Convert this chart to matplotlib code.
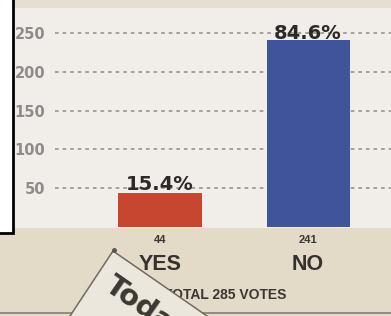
import matplotlib
matplotlib.use("Agg")
import matplotlib.pyplot as plt
from matplotlib.patches import Rectangle, Polygon
import numpy as np

# ---- data ----
categories = ["YES", "NO"]
votes = [44, 241]
bar_colors = ["#c6462f", "#40549b"]
yticks = [50, 100, 150, 200, 250]
total_label = "TOTAL 285 VOTES"
tag_text = "Today"

total = sum(votes)
pct_labels = [f"{v / total * 100:.1f}%" for v in votes]

W, H = 391, 316
fig = plt.figure(figsize=(W / 100, H / 100), dpi=100)

narrow = ["Liberation Sans", "DejaVu Sans"]

# ---- background (pixel coordinates) ----
bg = fig.add_axes([0, 0, 1, 1], zorder=0)
bg.set_xlim(0, W)
bg.set_ylim(H, 0)
bg.axis("off")
bg.add_patch(Rectangle((0, 0), W, 8, color="#e6decf", lw=0))
bg.add_patch(Rectangle((0, 8), W, 220, color="#f1eeea", lw=0))
bg.add_patch(Rectangle((0, 228), W, 88, color="#e3dac8", lw=0))
bg.plot([0, W], [313, 313], color="#857d70", lw=1.2)

# ---- main chart ----
zero_px, px_per_unit = 227, 0.776
top_px = 8
ax_left, ax_right = 55, W
ax = fig.add_axes([ax_left / W, (H - zero_px) / H, (ax_right - ax_left) / W,
                   (zero_px - top_px) / H], zorder=1)
ax.patch.set_alpha(0)
ax.set_ylim(0, (zero_px - top_px) / px_per_unit)
c0, c1 = 160, 308
sc = c1 - c0
ax.set_xlim(-(c0 - ax_left) / sc, 1 + (ax_right - c1) / sc)

x = np.arange(len(categories))
ax.bar(x, votes, width=83 / sc, color=bar_colors, zorder=3)

ax.set_yticks(yticks)
ax.set_yticklabels([str(t) for t in yticks], color="#8e8c8a",
                   fontweight="bold", fontsize=10.5)
ax.tick_params(axis="y", length=0, pad=7)
ax.set_xticks([])
ax.yaxis.grid(True, color="#9c9a98", lw=1.3, linestyle=(0, (2, 2.2)))
ax.set_axisbelow(True)
for s in ax.spines.values():
    s.set_visible(False)

for i, (v, p) in enumerate(zip(votes, pct_labels)):
    ax.annotate(p, xy=(i, v), xytext=(0, 3 if v < 100 else 1),
                textcoords="offset pixels", ha="center", va="baseline",
                fontsize=14, fontweight="bold", color="#2c2a28")
    ax.annotate(str(v), xy=(i, 0), xycoords=("data", "axes fraction"),
                xytext=(0, -13), textcoords="offset pixels",
                ha="center", va="center", fontsize=8, fontweight="bold",
                color="#3a3734", family=narrow, annotation_clip=False)
    ax.annotate(categories[i], xy=(i, 0), xycoords=("data", "axes fraction"),
                xytext=(0, -37), textcoords="offset pixels",
                ha="center", va="center", fontsize=15.5, fontweight="bold",
                color="#34312e", family=narrow, annotation_clip=False)

ax.annotate(total_label, xy=(0.5, 0), xycoords="axes fraction",
            xytext=(2, -68), textcoords="offset pixels", ha="center",
            va="center", fontsize=10, fontweight="bold", color="#3a3734",
            family=narrow, annotation_clip=False)

# ---- overlay decorations (pixel coordinates) ----
ov = fig.add_axes([0, 0, 1, 1], zorder=5)
ov.set_xlim(0, W)
ov.set_ylim(H, 0)
ov.axis("off")
ov.patch.set_alpha(0)

C = np.array([113.0, 251.0])
u = np.array([94.0, 65.0]); u /= np.linalg.norm(u)
v = np.array([-43.0, 65.0]); v /= np.linalg.norm(v)
L1, L2 = 260, 260
ov.add_patch(Polygon([C, C + L1 * u, C + L1 * u + L2 * v, C + L2 * v],
                     closed=True, facecolor="#ece7dd", edgecolor="#6f6a63",
                     lw=1.1))
ov.plot([C[0] + 1], [C[1] - 1], "o", ms=2.5, color="#555")
ang = -np.degrees(np.arctan2(u[1], u[0]))
ov.text(103, 289, tag_text, rotation=ang, rotation_mode="anchor",
        ha="left", va="baseline", fontsize=21, fontweight="bold",
        color="#3b3732")

ov.add_patch(Rectangle((-5, -5), 17.5, 238, facecolor="white",
                       edgecolor="black", lw=2))

fig.savefig("out.png", dpi=100)
